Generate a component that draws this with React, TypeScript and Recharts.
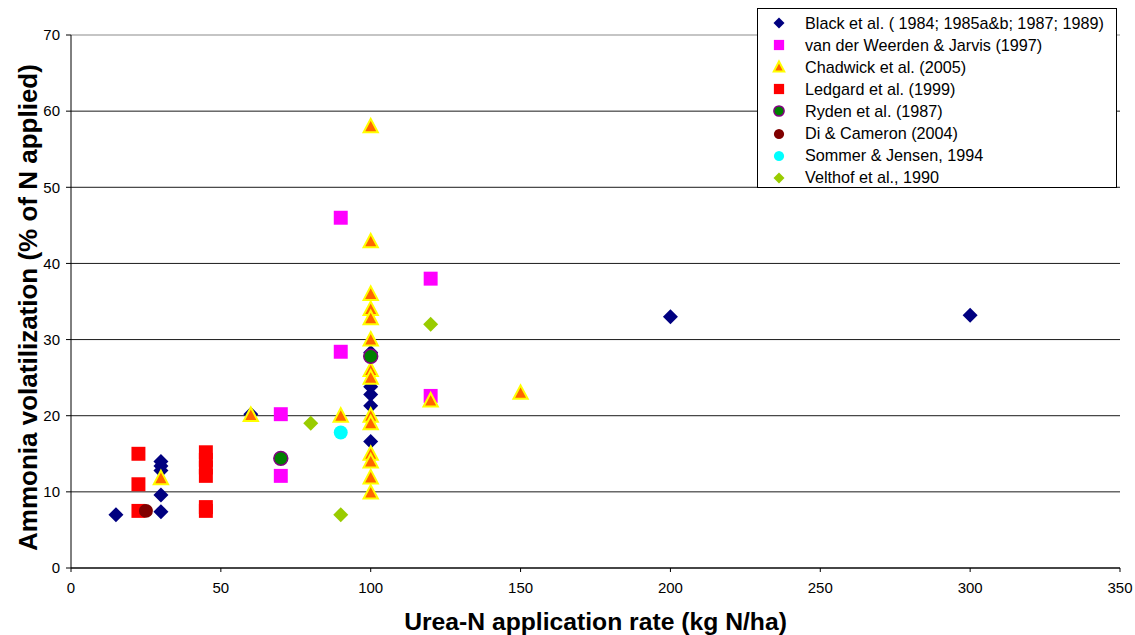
import React from "react";
import {
  ScatterChart,
  Scatter,
  XAxis,
  YAxis,
  CartesianGrid,
  ReferenceLine,
  Legend,
  Label,
} from "recharts";

// ---------- data ----------
const blackX = [15, 30, 30, 30, 30, 30, 60, 100, 100, 100, 100, 100, 200, 300];
const blackY = [7, 14, 13.4, 12.8, 9.6, 7.4, 20.2, 28.3, 23.8, 22.8, 21.3, 16.6, 33, 33.2];

const weerdenX = [90, 90, 70, 70, 120, 120];
const weerdenY = [46, 28.4, 20.2, 12.1, 38, 22.6];

const chadwickX = [30, 60, 90, 100, 100, 100, 100, 100, 100, 100, 100, 100, 100, 100, 100, 100, 100, 120, 150];
const chadwickY = [11.8, 20.1, 20, 58, 42.9, 36, 34, 32.8, 30, 26, 25, 20, 19, 15, 14, 11.9, 9.9, 22, 23];

const ledgardX = [22.5, 22.5, 22.5, 45, 45, 45, 45, 45, 45];
const ledgardY = [15, 11, 7.5, 15.2, 14.2, 13.2, 12.1, 8, 7.5];

const rydenX = [100, 70];
const rydenY = [27.8, 14.4];

const diX = [25];
const diY = [7.5];

const sommerX = [90];
const sommerY = [17.8];

const velthofX = [80, 120, 90];
const velthofY = [19, 32, 7];

const xTicks = [0, 50, 100, 150, 200, 250, 300, 350];
const yTicks = [0, 10, 20, 30, 40, 50, 60, 70];

const seriesNames = [
  "Black et al. ( 1984; 1985a&b; 1987; 1989)",
  "van der Weerden & Jarvis (1997)",
  "Chadwick et al. (2005)",
  "Ledgard et al. (1999)",
  "Ryden et al. (1987)",
  "Di & Cameron (2004)",
  "Sommer & Jensen, 1994",
  "Velthof et al., 1990",
];

const zip = (xs: number[], ys: number[]) => xs.map((x, i) => ({ x, y: ys[i] }));

const FONT = "'Liberation Sans', Arial, sans-serif";

// ---------- marker shapes ----------
type Kind = "diamond" | "square" | "triangle" | "circle";
interface Sty {
  kind: Kind;
  fill: string;
  stroke?: string;
  sw?: number;
}

const styles: Sty[] = [
  { kind: "diamond", fill: "#000080" },
  { kind: "square", fill: "#FF00FF" },
  { kind: "triangle", fill: "#FF6600", stroke: "#FFFF00", sw: 2 },
  { kind: "square", fill: "#FF0000" },
  { kind: "circle", fill: "#008000", stroke: "#800080", sw: 1.5 },
  { kind: "circle", fill: "#800000" },
  { kind: "circle", fill: "#00FFFF" },
  { kind: "diamond", fill: "#99CC00" },
];

function Marker({ cx, cy, s, r }: { cx: number; cy: number; s: Sty; r: number }) {
  if (cx == null || cy == null) return null;
  const stroke = s.stroke || "none";
  const sw = s.sw || 0;
  switch (s.kind) {
    case "diamond":
      return (
        <polygon
          points={`${cx},${cy - r} ${cx + r},${cy} ${cx},${cy + r} ${cx - r},${cy}`}
          fill={s.fill}
        />
      );
    case "square":
      return <rect x={cx - r * 0.93} y={cy - r * 0.93} width={r * 1.86} height={r * 1.86} fill={s.fill} />;
    case "triangle":
      return (
        <polygon
          points={`${cx},${cy - r} ${cx + r * 0.95},${cy + r * 0.8} ${cx - r * 0.95},${cy + r * 0.8}`}
          fill={s.fill}
          stroke={stroke}
          strokeWidth={sw}
          strokeLinejoin="miter"
        />
      );
    case "circle":
      return <circle cx={cx} cy={cy} r={r * 0.93} fill={s.fill} stroke={stroke} strokeWidth={sw} />;
  }
  return null;
}

const makeShape = (s: Sty) => (props: any) => <Marker cx={props.cx} cy={props.cy} s={s} r={7.5} />;

function LegendBox() {
  return (
    <div
      style={{
        width: 358,
        height: 178,
        border: "1px solid #000",
        background: "#fff",
        fontFamily: FONT,
        fontSize: 16.2,
        color: "#000",
        position: "relative",
      }}
    >
      {seriesNames.map((n, i) => (
        <div
          key={n}
          style={{
            position: "absolute",
            left: 0,
            top: 3 + i * 22.1,
            height: 22,
            display: "flex",
            alignItems: "center",
            whiteSpace: "nowrap",
          }}
        >
          <svg width={46} height={22} style={{ display: "block" }}>
            <Marker cx={21} cy={11} s={styles[i]} r={5.5} />
          </svg>
          <span style={{ marginLeft: 1 }}>{n}</span>
        </div>
      ))}
    </div>
  );
}

const datasets = [
  zip(blackX, blackY),
  zip(weerdenX, weerdenY),
  zip(chadwickX, chadwickY),
  zip(ledgardX, ledgardY),
  zip(rydenX, rydenY),
  zip(diX, diY),
  zip(sommerX, sommerY),
  zip(velthofX, velthofY),
];

export default function App() {
  return (
    <div style={{ position: "absolute", left: 0, top: 0, width: 1135, height: 635, background: "#fff" }}>
      <ScatterChart
        width={1135}
        height={635}
        margin={{ top: 35, right: 15, bottom: 0, left: 0 }}
        style={{ fontFamily: FONT }}
      >
        <CartesianGrid horizontal={true} vertical={false} stroke="#000" strokeOpacity={0.9} />
        <ReferenceLine y={70} stroke="#d8d8d8" strokeWidth={1.5} />
        <XAxis
          type="number"
          dataKey="x"
          domain={[0, 350]}
          ticks={xTicks}
          interval={0}
          height={67}
          stroke="#000"
          tickSize={4}
          tickMargin={10}
          tick={{ fontSize: 15, fill: "#000", fontFamily: FONT }}
          allowDataOverflow
        >
          <Label
            value="Urea-N application rate (kg N/ha)"
            position="center"
            dy={20}
            style={{ fontSize: 24.7, fontWeight: "bold", fill: "#000", fontFamily: FONT }}
          />
        </XAxis>
        <YAxis
          type="number"
          dataKey="y"
          domain={[0, 70]}
          ticks={yTicks}
          interval={0}
          width={71}
          stroke="#000"
          tickSize={5}
          tickMargin={6}
          tick={{ fontSize: 15, fill: "#000", fontFamily: FONT }}
          allowDataOverflow
        >
          <Label
            value="Ammonia volatilization (% of N applied)"
            position="center"
            angle={-90}
            dx={-8}
            dy={6}
            style={{ fontSize: 26, fontWeight: "bold", fill: "#000", fontFamily: FONT, textAnchor: "middle" }}
          />
        </YAxis>
        <Legend
          layout="vertical"
          align="center"
          verticalAlign="middle"
          wrapperStyle={{ left: 757, top: 8, width: 360, height: 180 }}
          content={() => <LegendBox />}
        />
        {datasets.map((d, i) => (
          <Scatter
            key={seriesNames[i]}
            name={seriesNames[i]}
            data={d}
            isAnimationActive={false}
            shape={makeShape(styles[i])}
          />
        ))}
      </ScatterChart>
    </div>
  );
}
